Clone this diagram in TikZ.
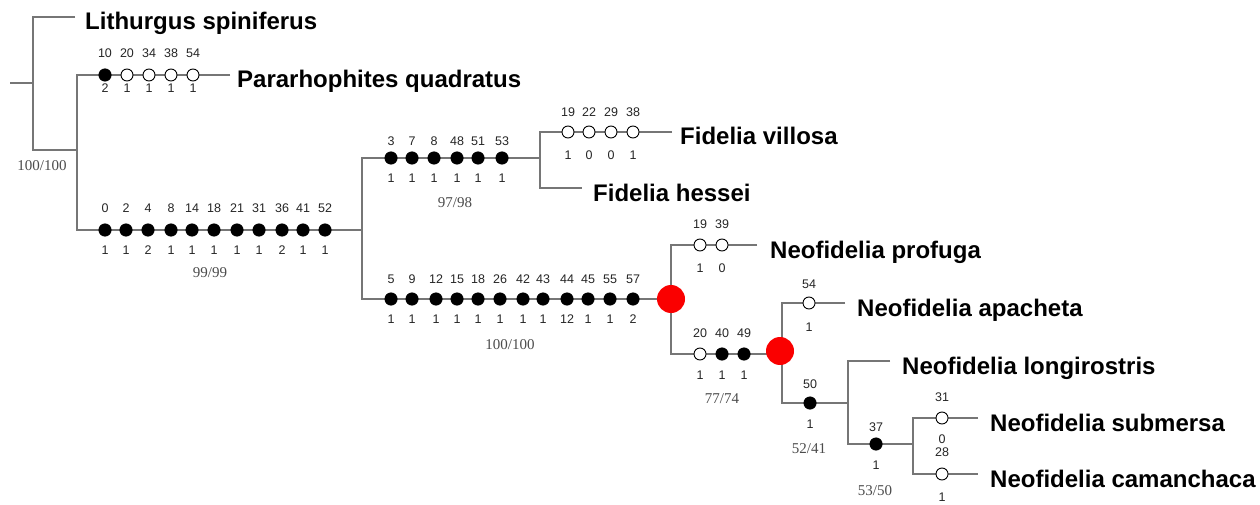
\documentclass[tikz,border=0pt]{standalone}
\usepackage{fontspec}
\setmainfont{Liberation Sans}
\newfontfamily\supfont{Liberation Serif}
\usetikzlibrary{calc}

\definecolor{lineclr}{RGB}{118,118,118}
\definecolor{hubred}{RGB}{250,0,0}

\tikzset{
  branch/.style={draw=lineclr, line width=1.8pt},
  syn/.style={circle, fill=black, draw=black, line width=0.5pt, minimum size=12.5pt, inner sep=0pt},
  hom/.style={circle, fill=white, draw=black, line width=0.9pt, minimum size=12pt, inner sep=0pt},
  hub/.style={circle, fill=hubred, minimum size=28pt, inner sep=0pt},
  nlab/.style={font=\fontsize{12.5}{13}\selectfont, inner sep=0pt, text=black!85},
  supp/.style={font=\supfont\fontsize{15}{16}\selectfont, inner sep=0pt, text=black!70},
  taxon/.style={font=\bfseries\fontsize{24}{26}\selectfont, anchor=base west, inner sep=0pt},
}

% character change: name, style, x, y, number above, state below
\def\offUp{20}
\def\offDn{21}
\newcommand{\trait}[6]{%
  \node[#2] (#1) at (#3,#4) {};
  \node[nlab] (#1u) at (#3,#4-\offUp) {#5};
  \node[nlab] (#1d) at (#3,#4+\offDn) {#6};
}

\begin{document}
\begin{tikzpicture}[x=1pt, y=-1pt]
\fill[white] (0,0) rectangle (1260,505);
\useasboundingbox (0,0) rectangle (1260,505);

% internal nodes of the tree
\coordinate (root) at (10,83);
\coordinate (A) at (33,83);
\coordinate (B) at (77,150);
\coordinate (C) at (362,230);
\coordinate (D) at (540,158);
\coordinate (E) at (671,299);
\coordinate (F) at (782,354);
\coordinate (G) at (848,403);
\coordinate (H) at (913,444);

% branch ends next to the terminal names
\coordinate (eLit) at (75,17);
\coordinate (ePar) at (230,75);
\coordinate (eVil) at (672,132);
\coordinate (eHes) at (582,188);
\coordinate (ePro) at (757,245);
\coordinate (eApa) at (845,303);
\coordinate (eLon) at (890,361);
\coordinate (eSub) at (978,418);
\coordinate (eCam) at (978,474);

% branches
\draw[branch] (root) -- (A);
\draw[branch] (eLit) -| (A) |- (B);
\draw[branch] (ePar) -| (B) |- (C);
\draw[branch] (D) -| (C) |- (E);
\draw[branch] (eVil) -| (D) |- (eHes);
\draw[branch] (ePro) -| (E) |- (F);
\draw[branch] (eApa) -| (F) |- (G);
\draw[branch] (eLon) -| (G) |- (H);
\draw[branch] (eSub) -| (H) |- (eCam);

% terminal taxa
\node[taxon] (Lit) at (85,30) {Lithurgus spiniferus};
\node[taxon] (Par) at (237,88) {Pararhophites quadratus};
\node[taxon] (Vil) at (680,145) {Fidelia villosa};
\node[taxon] (Hes) at (593,201) {Fidelia hessei};
\node[taxon] (Pro) at (770,258) {Neofidelia profuga};
\node[taxon] (Apa) at (857,316) {Neofidelia apacheta};
\node[taxon] (Lon) at (902,374) {Neofidelia longirostris};
\node[taxon] (Sub) at (990,431) {Neofidelia submersa};
\node[taxon] (Cam) at (990,487) {Neofidelia camanchaca};

% character changes: Pararhophites
\def\offUp{22}\def\offDn{13}
\trait{p1}{syn}{105}{75}{10}{2}
\trait{p2}{hom}{127}{75}{20}{1}
\trait{p3}{hom}{149}{75}{34}{1}
\trait{p4}{hom}{171}{75}{38}{1}
\trait{p5}{hom}{193}{75}{54}{1}

% Fideliinae stem
\def\offUp{22}\def\offDn{20}
\trait{m1}{syn}{105}{230}{0}{1}
\trait{m2}{syn}{126}{230}{2}{1}
\trait{m3}{syn}{148}{230}{4}{2}
\trait{m4}{syn}{171}{230}{8}{1}
\trait{m5}{syn}{192}{230}{14}{1}
\trait{m6}{syn}{214}{230}{18}{1}
\trait{m7}{syn}{237}{230}{21}{1}
\trait{m8}{syn}{259}{230}{31}{1}
\trait{m9}{syn}{282}{230}{36}{2}
\trait{m10}{syn}{303}{230}{41}{1}
\trait{m11}{syn}{325}{230}{52}{1}

% Fidelia stem
\def\offUp{17}\def\offDn{20}
\trait{f1}{syn}{391}{158}{3}{1}
\trait{f2}{syn}{412}{158}{7}{1}
\trait{f3}{syn}{434}{158}{8}{1}
\trait{f4}{syn}{457}{158}{48}{1}
\trait{f5}{syn}{478}{158}{51}{1}
\trait{f6}{syn}{502}{158}{53}{1}

% Fidelia villosa
\def\offUp{20}\def\offDn{23}
\trait{v1}{hom}{568}{132}{19}{1}
\trait{v2}{hom}{589}{132}{22}{0}
\trait{v3}{hom}{611}{132}{29}{0}
\trait{v4}{hom}{633}{132}{38}{1}

% Neofidelia stem
\def\offUp{20}\def\offDn{20}
\trait{n1}{syn}{391}{299}{5}{1}
\trait{n2}{syn}{412}{299}{9}{1}
\trait{n3}{syn}{436}{299}{12}{1}
\trait{n4}{syn}{457}{299}{15}{1}
\trait{n5}{syn}{478}{299}{18}{1}
\trait{n6}{syn}{500}{299}{26}{1}
\trait{n7}{syn}{523}{299}{42}{1}
\trait{n8}{syn}{543}{299}{43}{1}
\trait{n9}{syn}{567}{299}{44}{12}
\trait{n10}{syn}{588}{299}{45}{1}
\trait{n11}{syn}{610}{299}{55}{1}
\trait{n12}{syn}{633}{299}{57}{2}

% Neofidelia profuga
\def\offUp{21}\def\offDn{23}
\trait{r1}{hom}{700}{245}{19}{1}
\trait{r2}{hom}{722}{245}{39}{0}

% remaining Neofidelia
\def\offUp{21}\def\offDn{21}
\trait{s1}{hom}{700}{354}{20}{1}
\trait{s2}{syn}{722}{354}{40}{1}
\trait{s3}{syn}{744}{354}{49}{1}

\def\offUp{19}\def\offDn{24}
\trait{a1}{hom}{809}{303}{54}{1}

\def\offUp{19}\def\offDn{21}
\trait{l1}{syn}{810}{403}{50}{1}

\def\offUp{17}\def\offDn{21}
\trait{c1}{syn}{876}{444}{37}{1}

\def\offUp{21}\def\offDn{21}
\trait{b1}{hom}{942}{418}{31}{0}
\def\offUp{22}\def\offDn{23}
\trait{b2}{hom}{942}{474}{28}{1}

% highlighted nodes
\node[hub] (hubE) at (E) {};
\node[hub] (hubF) at ($(F)+(-2,-3)$) {};

% bootstrap / jackknife support
\node[supp] (sA) at (42,166) {100/100};
\node[supp] (sB) at (210,273) {99/99};
\node[supp] (sD) at (455,203) {97/98};
\node[supp] (sE) at (510,345) {100/100};
\node[supp] (sF) at (722,399) {77/74};
\node[supp] (sG) at (809,449) {52/41};
\node[supp] (sH) at (875,491) {53/50};
\end{tikzpicture}
\end{document}
